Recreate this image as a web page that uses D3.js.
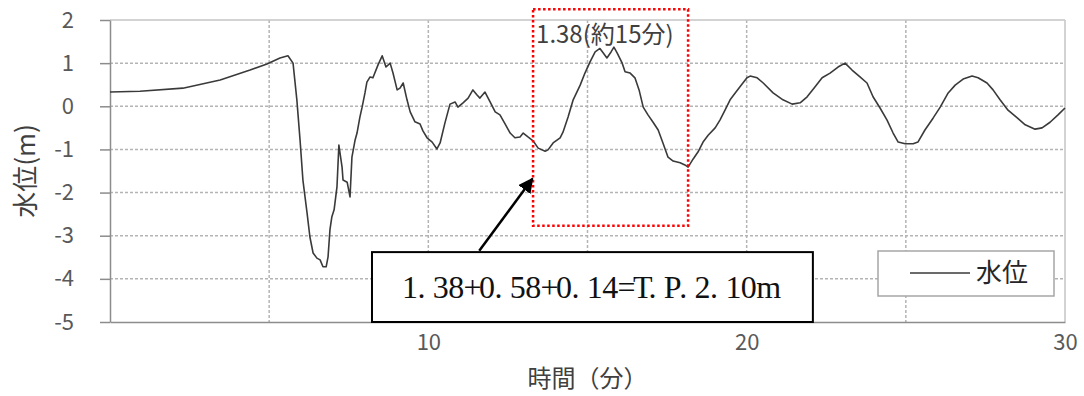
<!DOCTYPE html>
<html>
<head>
<meta charset="utf-8">
<script src="https://cdn.jsdelivr.net/npm/d3@7"></script>
<style>
  body { margin: 0; background: #fff; }
  svg { display: block; font-family: "Noto Sans CJK JP", "Noto Sans", sans-serif; }
  .axis path, .axis line { stroke: #8c8c8c; stroke-width: 1.5; }
  .axis text { fill: #595959; font-size: 22px; font-family: "Noto Sans CJK JP", "Noto Sans", sans-serif; }
  .grid { stroke: #b4b4b4; stroke-width: 1.5; stroke-dasharray: 3,2; }
</style>
</head>
<body>
<div class="chart"></div>
<script>
// time (minutes) and water level (m)
const timeMin = [
  0, 0.94, 2.29, 3.46, 4.40, 4.93, 5.34, 5.59, 5.75, 5.87, 5.97, 6.06, 6.19, 6.28, 6.38,
  6.50, 6.60, 6.69, 6.79, 6.85, 6.91, 6.97, 7.04, 7.13, 7.19, 7.29, 7.32, 7.45, 7.54,
  7.60, 7.70, 7.76, 7.85, 7.92, 8.01, 8.07, 8.17, 8.26, 8.42, 8.55, 8.67, 8.80, 8.89,
  9.02, 9.11, 9.21, 9.33, 9.43, 9.58, 9.74, 9.83, 9.96, 10.12, 10.27, 10.37, 10.52,
  10.68, 10.84, 10.93, 11.09, 11.25, 11.40, 11.53, 11.62, 11.78, 11.94, 12.10, 12.25,
  12.41, 12.57, 12.72, 12.88, 12.98, 13.13, 13.29, 13.45, 13.67, 13.76, 13.92, 14.14,
  14.23, 14.39, 14.55, 14.77, 14.92, 15.08, 15.24, 15.39, 15.49, 15.61, 15.74, 15.83,
  15.93, 16.09, 16.18, 16.34, 16.49, 16.62, 16.75, 16.90, 17.06, 17.22, 17.37, 17.53,
  17.69, 17.91, 18.06, 18.16, 18.32, 18.47, 18.63, 18.79, 19.01, 19.16, 19.32, 19.48,
  19.64, 19.79, 20.01, 20.11, 20.33, 20.52, 20.83, 21.14, 21.43, 21.68, 21.90, 22.15,
  22.37, 22.62, 22.87, 23.09, 23.31, 23.56, 23.78, 23.97, 24.19, 24.41, 24.60, 24.76,
  24.98, 25.23, 25.38, 25.60, 25.86, 26.08, 26.33, 26.55, 26.80, 27.08, 27.27, 27.55,
  27.74, 27.96, 28.21, 28.50, 28.75, 29.06, 29.28, 29.53, 29.78, 30.00
];
const waterLevel = [
  0.33, 0.35, 0.42, 0.61, 0.84, 0.98, 1.12, 1.17, 1.00, 0.15, -0.78, -1.71, -2.47, -3.03, -3.40,
  -3.52, -3.56, -3.72, -3.72, -3.49, -2.86, -2.56, -2.40, -1.87, -0.90, -1.41, -1.71, -1.76, -2.10,
  -1.18, -0.78, -0.62, -0.25, -0.02, 0.31, 0.56, 0.68, 0.66, 0.96, 1.17, 0.91, 1.00, 0.77,
  0.38, 0.42, 0.54, 0.15, -0.13, -0.36, -0.41, -0.57, -0.73, -0.83, -0.99, -0.85, -0.39,
  0.05, 0.10, -0.02, 0.08, 0.19, 0.38, 0.26, 0.19, 0.33, 0.10, -0.13, -0.20,
  -0.41, -0.62, -0.73, -0.71, -0.62, -0.71, -0.80, -0.97, -1.04, -1.01, -0.85, -0.73,
  -0.60, -0.25, 0.15, 0.49, 0.77, 1.03, 1.26, 1.34, 1.24, 1.12, 1.26, 1.37,
  1.24, 1.00, 0.80, 0.77, 0.66, 0.38, -0.02, -0.20, -0.37, -0.55, -0.85, -1.18,
  -1.27, -1.31, -1.36, -1.41, -1.22, -1.06, -0.83, -0.67, -0.50, -0.32, -0.09, 0.15,
  0.31, 0.45, 0.66, 0.70, 0.66, 0.54, 0.31, 0.15, 0.05, 0.08, 0.22, 0.45,
  0.66, 0.77, 0.91, 1.00, 0.84, 0.68, 0.54, 0.22, -0.04, -0.32, -0.62, -0.83,
  -0.87, -0.87, -0.83, -0.55, -0.27, -0.02, 0.31, 0.49, 0.63, 0.70, 0.66, 0.54,
  0.38, 0.15, -0.09, -0.27, -0.43, -0.53, -0.50, -0.37, -0.20, -0.04
];

const yTicks = [-5, -4, -3, -2, -1, 0, 1, 2];
const xTickLabels = [10, 20, 30];
const xGrid = [5, 10, 15, 20, 25];
const seriesName = "水位";
const peakLabel = "1.38(約15分)";
const noteText = "1.38+0.58+0.14=T.P.2.10m";

const width = 1084;
const height = 396;
const margin = { top: 20, right: 19, bottom: 74, left: 110 };

const svg = d3.select(".chart")
  .append("svg")
  .attr("width", width)
  .attr("height", height);

const x = d3.scaleLinear().domain([0, 30]).range([margin.left, width - margin.right]);
const y = d3.scaleLinear().domain([-5, 2]).range([height - margin.bottom, margin.top]);

// gridlines
svg.append("g")
  .selectAll("line")
  .data(yTicks.filter(d => d > -5 && d < 2))
  .enter()
  .append("line")
  .attr("class", "grid")
  .attr("x1", x(0)).attr("x2", x(30))
  .attr("y1", d => y(d)).attr("y2", d => y(d));

svg.append("g")
  .selectAll("line")
  .data(xGrid)
  .enter()
  .append("line")
  .attr("class", "grid")
  .attr("x1", d => x(d)).attr("x2", d => x(d))
  .attr("y1", y(2)).attr("y2", y(-5));

// top and right frame
svg.append("line")
  .attr("x1", x(0)).attr("x2", x(30))
  .attr("y1", y(2)).attr("y2", y(2))
  .attr("stroke", "#c4c4c4").attr("stroke-width", 1.5);
svg.append("line")
  .attr("x1", x(30)).attr("x2", x(30))
  .attr("y1", y(2)).attr("y2", y(-5))
  .attr("stroke", "#c4c4c4").attr("stroke-width", 1.5);

// axes
const yAxis = d3.axisLeft(y)
  .tickValues(yTicks)
  .tickFormat(d => String(d))
  .tickSize(10)
  .tickPadding(26)
  .tickSizeOuter(0);
svg.append("g")
  .attr("class", "axis")
  .attr("transform", `translate(${x(0)},0)`)
  .call(yAxis);

const xAxis = d3.axisBottom(x)
  .tickValues(xTickLabels)
  .tickFormat(d => String(d))
  .tickSize(0)
  .tickPadding(12)
  .tickSizeOuter(0);
svg.append("g")
  .attr("class", "axis")
  .attr("transform", `translate(0,${y(-5)})`)
  .call(xAxis);

// axis titles
svg.append("text")
  .attr("transform", `translate(35, ${(y(2) + y(-5)) / 2}) rotate(-90)`)
  .attr("text-anchor", "middle")
  .attr("fill", "#404040")
  .style("font-size", "26px")
  .text("水位(m)");

svg.append("text")
  .attr("x", (x(0) + x(30)) / 2)
  .attr("y", 387)
  .attr("text-anchor", "middle")
  .attr("fill", "#404040")
  .style("font-size", "24px")
  .text("時間（分）");

// water level line
const data = timeMin.map((t, i) => ({ t: t, v: waterLevel[i] }));
svg.append("path")
  .datum(data)
  .attr("fill", "none")
  .attr("stroke", "#3a3a3a")
  .attr("stroke-width", 1.6)
  .attr("stroke-linejoin", "round")
  .attr("d", d3.line().x(d => x(d.t)).y(d => y(d.v)));

// red dotted highlight box around the peak
const boxT = [13.29, 18.16];
const boxV = [2.25, -2.77];
svg.append("rect")
  .attr("x", x(boxT[0]))
  .attr("y", y(boxV[0]))
  .attr("width", x(boxT[1]) - x(boxT[0]))
  .attr("height", y(boxV[1]) - y(boxV[0]))
  .attr("fill", "none")
  .attr("stroke", "#ff0000")
  .attr("stroke-width", 2.5)
  .attr("stroke-dasharray", "2.5,2.5");

svg.append("text")
  .attr("x", x(boxT[0]) + 3)
  .attr("y", y(boxV[0]) + 34)
  .attr("fill", "#404040")
  .style("font-size", "24px")
  .text(peakLabel);

// arrow from the note box to the highlight
svg.append("defs")
  .append("marker")
  .attr("id", "arrow")
  .attr("viewBox", "0 0 10 10")
  .attr("refX", 9)
  .attr("refY", 5)
  .attr("markerWidth", 6)
  .attr("markerHeight", 6)
  .attr("orient", "auto")
  .append("path")
  .attr("d", "M0,0 L10,5 L0,10 z")
  .attr("fill", "#000");

svg.append("line")
  .attr("x1", x(11.6)).attr("y1", y(-3.35))
  .attr("x2", x(13.27)).attr("y2", y(-1.68))
  .attr("stroke", "#000")
  .attr("stroke-width", 2.5)
  .attr("marker-end", "url(#arrow)");

// note box
const note = svg.append("g");
note.append("rect")
  .attr("x", x(8.23))
  .attr("y", y(-3.38))
  .attr("width", x(22.08) - x(8.23))
  .attr("height", y(-5) - y(-3.38))
  .attr("fill", "#fff")
  .attr("stroke", "#000")
  .attr("stroke-width", 2);

// monospaced layout like the original mincho rendering
const noteChars = noteText.split("");
note.append("text")
  .attr("x", noteChars.map((c, i) => x(8.23) + 30 + i * 15.4).join(" "))
  .attr("y", 298)
  .attr("fill", "#111")
  .style("font-family", "'Liberation Serif', 'DejaVu Serif', serif")
  .style("font-size", "32px")
  .text(noteText);

// legend
const legend = svg.append("g").attr("transform", "translate(878,251)");
legend.append("rect")
  .attr("width", 176)
  .attr("height", 45)
  .attr("fill", "#fff")
  .attr("stroke", "#a6a6a6")
  .attr("stroke-width", 1.5);
legend.append("line")
  .attr("x1", 32).attr("x2", 92)
  .attr("y1", 22).attr("y2", 22)
  .attr("stroke", "#3a3a3a")
  .attr("stroke-width", 1.6);
legend.append("text")
  .attr("x", 98)
  .attr("y", 31)
  .attr("fill", "#262626")
  .style("font-size", "26px")
  .text(seriesName);
</script>
</body>
</html>
